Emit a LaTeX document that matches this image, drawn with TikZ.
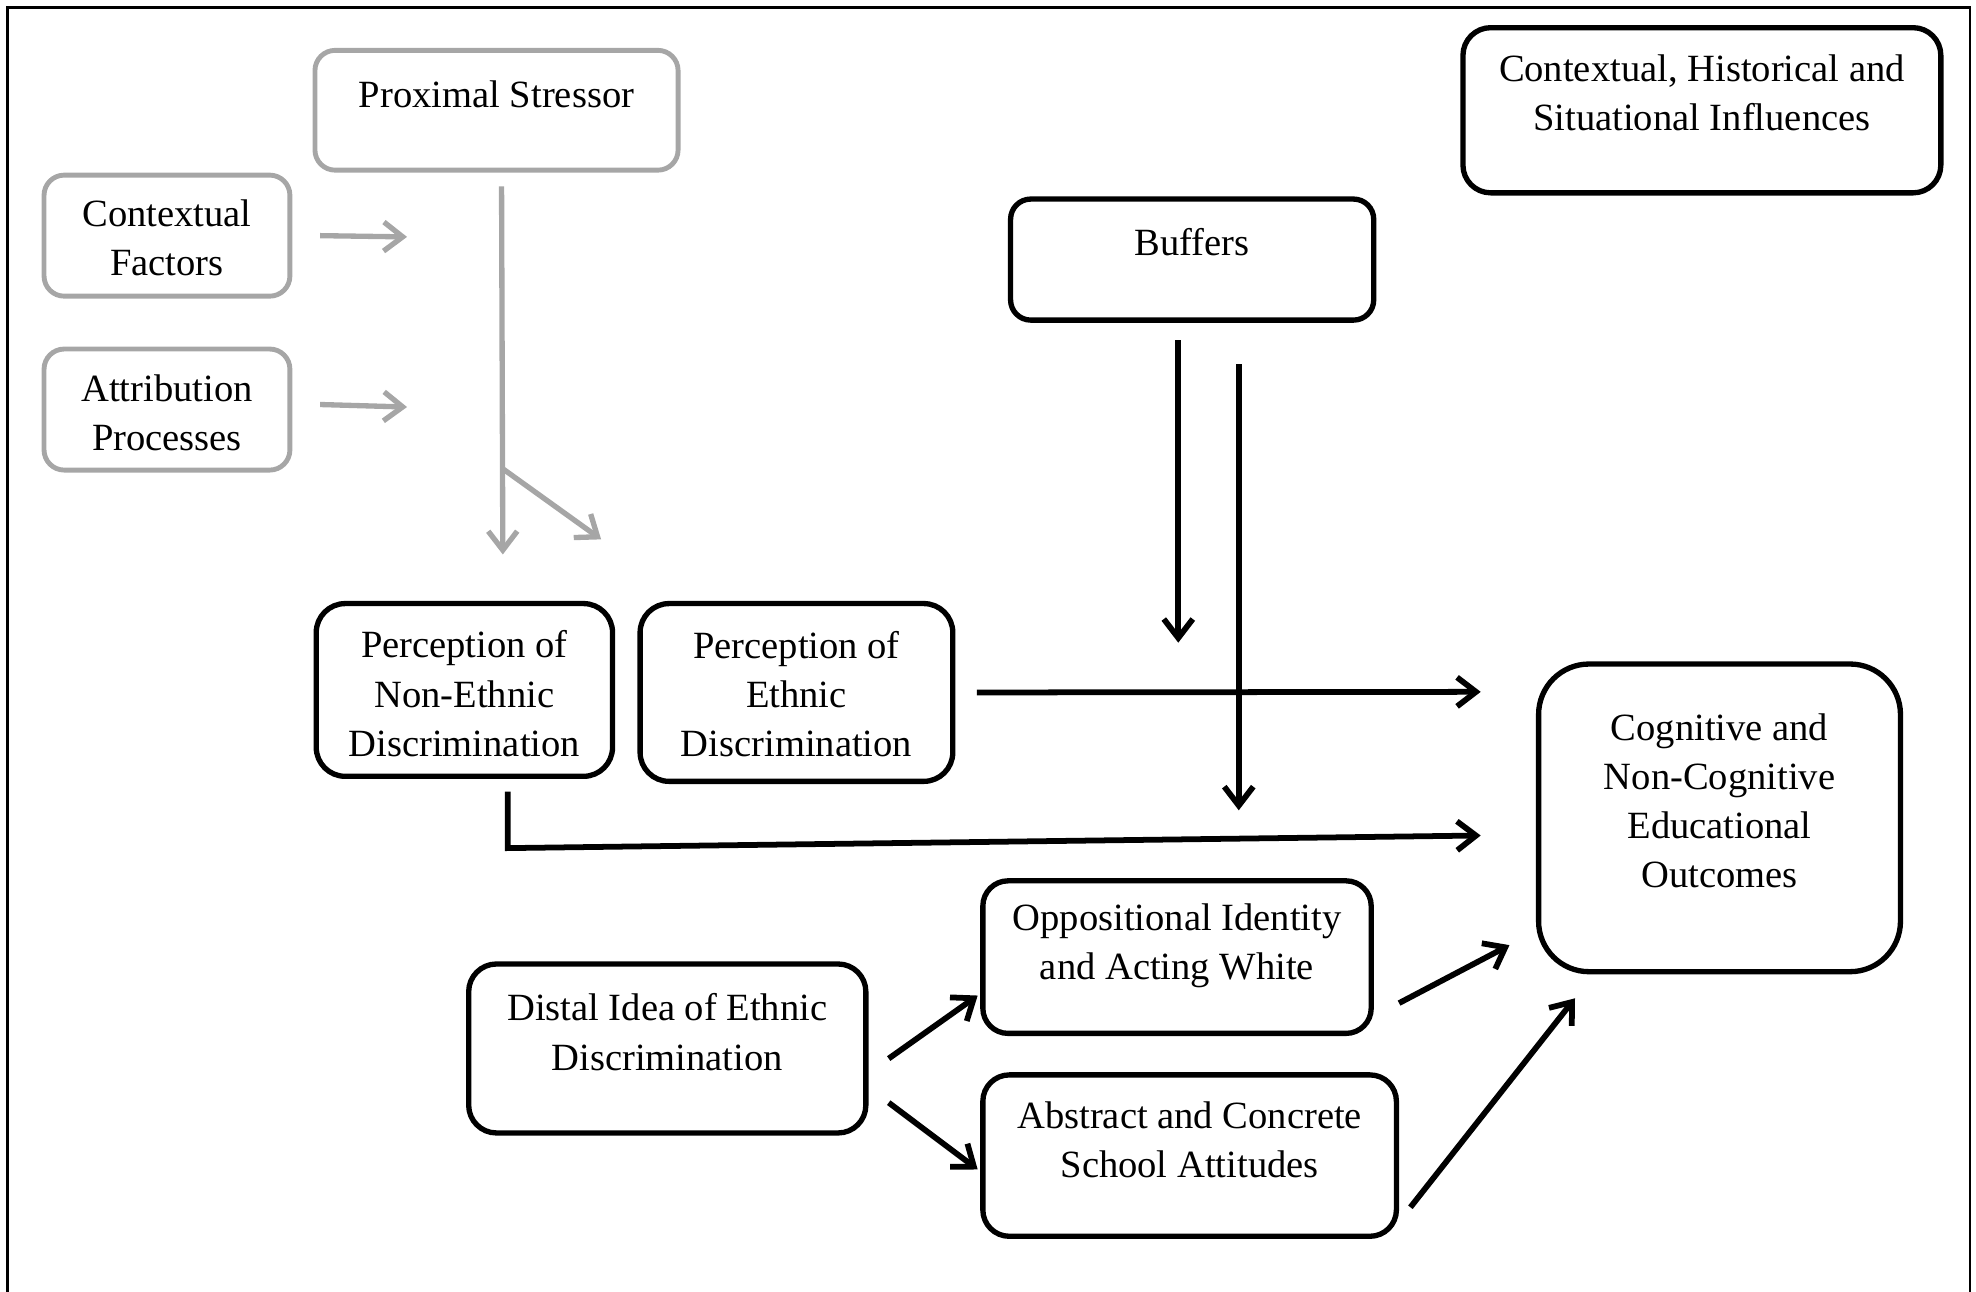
\documentclass[tikz,border=0pt]{standalone}
\usepackage{fontspec}
\setmainfont{Liberation Serif}
\usetikzlibrary{arrows.meta}
\tikzset{
	grybox/.style = {shape=rectangle, draw=black!35, line width=1.1pt},
	blkbox/.style = {shape=rectangle, draw, line width=1.2pt},
	lbl/.style = {align=center, inner sep=0pt, font=\fontsize{8.7}{11.1}\selectfont},
	gryarr/.style = {draw=black!35, line width=1.2pt, -{Straight Barb[length=1.5mm,width=2.3mm]}},
	blkarr/.style = {draw, line width=1.3pt, -{Straight Barb[length=1.5mm,width=2.3mm]}},
}
\begin{document}
\begin{tikzpicture}[x=0.01cm, y=-0.01cm]
		\useasboundingbox (0,0) rectangle (1568,1025);
		\draw[line width=0.5pt] (6,1025) -- (6,6) -- (1563,6) -- (1563,1025);

		\node[grybox, rounded corners=0.16cm, minimum width=2.88cm, minimum height=0.95cm] (prox) at (394,87.5) {};
		\node[lbl] (prox-t) at (394,75) {Proximal Stressor};
		\node[grybox, rounded corners=0.16cm, minimum width=1.95cm, minimum height=0.96cm] (ctx) at (132.5,187) {};
		\node[lbl] (ctx-t) at (132.5,188.5) {Contextual\\Factors};
		\node[grybox, rounded corners=0.16cm, minimum width=1.95cm, minimum height=0.96cm] (attr) at (132.5,325) {};
		\node[lbl] (attr-t) at (132.5,327.5) {Attribution\\Processes};

		\node[blkbox, rounded corners=0.22cm, minimum width=3.79cm, minimum height=1.31cm] (chs) at (1350.5,87.5) {};
		\node[lbl] (chs-t) at (1350.5,73.5) {Contextual, Historical and\\Situational Influences};
		\node[blkbox, rounded corners=0.16cm, minimum width=2.88cm, minimum height=0.96cm] (buf) at (946,206) {};
		\node[lbl] (buf-t) at (946,192) {Buffers};

		\node[blkbox, rounded corners=0.23cm, minimum width=2.35cm, minimum height=1.37cm] (pne) at (368.5,547.5) {};
		\node[lbl] (pne-t) at (368.5,550.5) {Perception of\\Non-Ethnic\\Discrimination};
		\node[blkbox, rounded corners=0.23cm, minimum width=2.48cm, minimum height=1.41cm] (pe) at (632,549.5) {};
		\node[lbl] (pe-t) at (632,551) {Perception of\\Ethnic\\Discrimination};
		\node[blkbox, rounded corners=0.40cm, minimum width=2.87cm, minimum height=2.44cm] (cog) at (1364.5,649) {};
		\node[lbl] (cog-t) at (1364.5,635.5) {Cognitive and\\Non-Cognitive\\Educational\\Outcomes};

		\node[blkbox, rounded corners=0.20cm, minimum width=3.08cm, minimum height=1.21cm] (opp) at (934,759.5) {};
		\node[lbl] (opp-t) at (934,750.5) {Oppositional Identity\\and Acting White};
		\node[blkbox, rounded corners=0.22cm, minimum width=3.15cm, minimum height=1.34cm] (dist) at (529.5,832) {};
		\node[lbl] (dist-t) at (529.5,819) {Distal Idea of Ethnic\\Discrimination};
		\node[blkbox, rounded corners=0.21cm, minimum width=3.28cm, minimum height=1.28cm] (abs) at (944,917) {};
		\node[lbl] (abs-t) at (944,904.5) {Abstract and Concrete\\School Attitudes};

		\coordinate (ctx-end) at (323,188);
		\coordinate (attr-end) at (323,323);
		\coordinate (ps-br) at (399,372);
		\coordinate (ps-end) at (399,440);
		\coordinate (ps-end2) at (477,428);
		\coordinate (buf-end1) at (935,510);
		\coordinate (buf-end2) at (983,643);
		\coordinate (cog-in1) at (1175,549);
		\coordinate (ne-turn) at (403,673);
		\coordinate (cog-in2) at (1175,663);

		\draw[gryarr] ([xshift=0.22cm]ctx.east) -- (ctx-end);
		\draw[gryarr] ([shift={(22,-4)}]attr.east) -- (attr-end);
		\draw[gryarr] ([shift={(4,11)}]prox.south) -- (ps-end);
		\draw[gryarr] (ps-br) -- (ps-end2);

		\draw[blkarr] ([shift={(-11,14)}]buf.south) -- (buf-end1);
		\draw[blkarr] ([shift={(37,33)}]buf.south) -- (buf-end2);
		\draw[blkarr] ([xshift=0.17cm]pe.east) -- (cog-in1);
		\draw[blkarr] ([shift={(34.5,10)}]pne.south) -- (ne-turn) -- (cog-in2);

		\draw[blkarr] ([shift={(16,8)}]dist.east) -- ([shift={(-2,30.5)}]opp.west);
		\draw[blkarr] ([shift={(16,43)}]dist.east) -- ([shift={(-2,11)}]abs.west);
		\draw[blkarr] ([shift={(20,36.5)}]opp.east) -- ([shift={(-21,101)}]cog.west);
		\draw[blkarr] ([shift={(9,41)}]abs.east) -- ([shift={(31,19)}]cog.south west);
	\end{tikzpicture}
\end{document}
